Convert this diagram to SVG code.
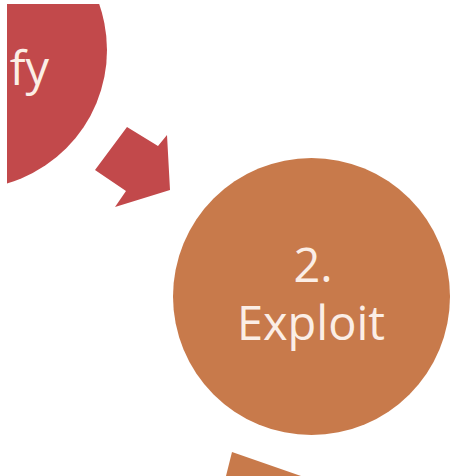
<svg xmlns="http://www.w3.org/2000/svg" width="452" height="476" viewBox="0 0 452 476">
  <defs>
    <clipPath id="crop">
      <rect x="7" y="4" width="445" height="472"/>
    </clipPath>
    <style>
      .lbl { font-family: "Open Sans", "Liberation Sans", sans-serif; font-size: 47px; fill: #fbeee6; }
      .red { fill: #c2494b; }
      .orange { fill: #c87a4b; }
    </style>
  </defs>
  <rect x="0" y="0" width="452" height="476" fill="#ffffff"/>
  <g clip-path="url(#crop)">
    <g id="node-identify">
      <circle class="red" cx="-32" cy="50" r="139"/>
      <text class="lbl" x="49" y="85" text-anchor="end">fy</text>
    </g>
    <g id="node-exploit">
      <circle class="orange" cx="311.5" cy="296.5" r="138.5"/>
      <text class="lbl" x="313" y="282" text-anchor="middle">2.</text>
      <text class="lbl" x="311" y="340" text-anchor="middle">Exploit</text>
    </g>
    <g id="connectors">
      <polygon class="red" points="95,170 127,127 158,146 167,135 170,190 115,207 126,191"/>
      <polygon class="orange" points="232,452 301,476 226,476"/>
    </g>
  </g>
</svg>
